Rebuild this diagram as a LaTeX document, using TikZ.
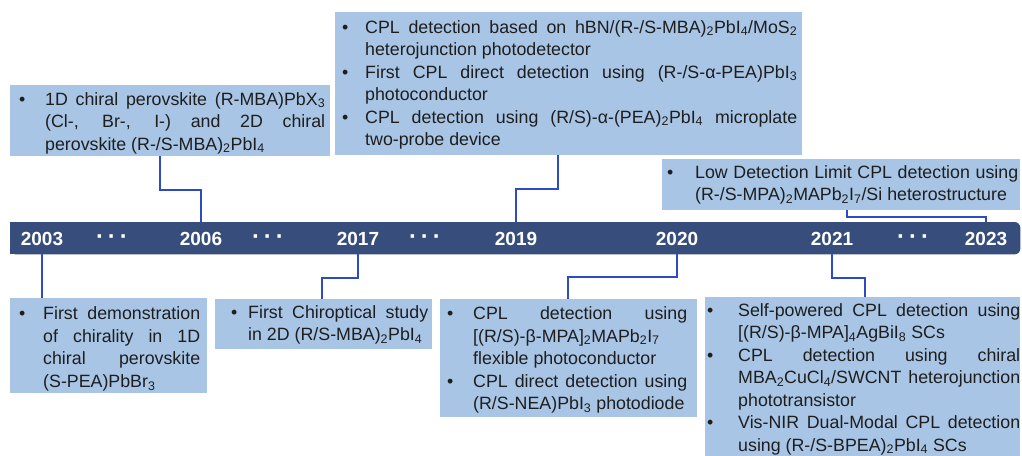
\documentclass[tikz,border=0pt]{standalone}
\usepackage{fontspec}
\setmainfont{Liberation Sans}
\definecolor{boxcol}{RGB}{168,197,229}
\definecolor{barcol}{RGB}{55,78,125}
\definecolor{conncol}{RGB}{45,75,195}
\definecolor{txtcol}{RGB}{30,30,30}
\newcommand\boxfont{\fontsize{17.8}{22.5}\selectfont}
\newcommand\itembox[2]{\par\noindent\makebox[#1][l]{\strut\textbullet}%
  \parbox[t]{\dimexpr\linewidth-#1\relax}{\boxfont\hyphenpenalty=10000 \exhyphenpenalty=10000 \strut#2\strut}\par}
\newcommand\itemstack[2]{\parbox{#1}{\boxfont\lineskip=0pt \lineskiplimit=0pt #2}}
\hbadness=10000
\tolerance=10000
\hyphenpenalty=10000
\exhyphenpenalty=10000
\begin{document}
\begin{tikzpicture}[x=1pt,y=-1pt,
  boxbg/.style={fill=boxcol, draw=none, inner sep=0pt, anchor=north west},
  boxtxt/.style={inner sep=0pt, anchor=west, text=txtcol},
  yearlab/.style={text=white, font=\fontsize{19}{19}\selectfont\bfseries, inner sep=0pt},
  dotlab/.style={text=white, font=\fontsize{24}{24}\selectfont\bfseries, inner sep=0pt},
  conn/.style={draw=conncol, line width=2pt}]
\useasboundingbox[fill=white] (0,0) rectangle (1022,455);

% timeline bar
\node[minimum width=1010pt, minimum height=32pt, inner sep=0pt, anchor=north west] (bar) at (10,222) {};
\fill[barcol, rounded corners=6pt] (bar.south west) rectangle (bar.north east);
\fill[barcol] (bar.south west) rectangle (bar.north);

\node[yearlab] (y2003) at (42,239) {2003};
\node[dotlab] (d1) at (112,240) {·\hspace{4pt}·\hspace{4pt}·};
\node[yearlab] (y2006) at (201,239) {2006};
\node[dotlab] (d2) at (268,240) {·\hspace{4pt}·\hspace{4pt}·};
\node[yearlab] (y2017) at (358,239) {2017};
\node[dotlab] (d3) at (425,240) {·\hspace{4pt}·\hspace{4pt}·};
\node[yearlab] (y2019) at (516,239) {2019};
\node[yearlab] (y2020) at (677,239) {2020};
\node[yearlab] (y2021) at (832,239) {2021};
\node[dotlab] (d4) at (913,240) {·\hspace{4pt}·\hspace{4pt}·};
\node[yearlab] (y2023) at (986,239) {2023};

% boxes
\node[boxbg, minimum width=320pt, minimum height=71pt] (b1) at (10,85) {};
\node[boxbg, minimum width=467pt, minimum height=143pt] (b2) at (335,12) {};
\node[boxbg, minimum width=358pt, minimum height=51pt] (b3) at (662,159) {};
\node[boxbg, minimum width=197pt, minimum height=95pt] (bA) at (10,298) {};
\node[boxbg, minimum width=217pt, minimum height=50pt] (bB) at (215,299) {};
\node[boxbg, minimum width=257pt, minimum height=118pt] (bC) at (440,299) {};
\node[boxbg, minimum width=315pt, minimum height=162pt] (bD) at (705,297) {};

% texts
\node[boxtxt] (t1) at (19,123) {\itemstack{306pt}{%
\itembox{26pt}{1D chiral perovskite (R-MBA)PbX\textsubscript{3}\linebreak (Cl-, Br-, I-) and 2D chiral\linebreak perovskite (R-/S-MBA)\textsubscript{2}PbI\textsubscript{4}}}};

\node[boxtxt] (t2) at (342,85) {\itemstack{455pt}{%
\itembox{23pt}{CPL detection based on hBN/(R-/S-MBA)\textsubscript{2}PbI\textsubscript{4}/MoS\textsubscript{2}\linebreak heterojunction photodetector}
\itembox{23pt}{First CPL direct detection using (R-/S-α-PEA)PbI\textsubscript{3}\linebreak photoconductor}
\itembox{23pt}{CPL detection using (R/S)-α-(PEA)\textsubscript{2}PbI\textsubscript{4} microplate\linebreak two-probe device}}};

\node[boxtxt] (t3) at (667,185) {\itemstack{351pt}{%
\itembox{28pt}{Low Detection Limit CPL detection using\linebreak (R-/S-MPA)\textsubscript{2}MAPb\textsubscript{2}I\textsubscript{7}/Si heterostructure}}};

\node[boxtxt] (tA) at (19,349) {\itemstack{181pt}{%
\itembox{24pt}{First demonstration\linebreak of chirality in 1D\linebreak chiral perovskite\linebreak (S-PEA)PbBr\textsubscript{3}}}};

\node[boxtxt] (tB) at (231,325) {\itemstack{197pt}{%
\itembox{17pt}{First Chiroptical study\linebreak in 2D (R/S-MBA)\textsubscript{2}PbI\textsubscript{4}}}};

\node[boxtxt] (tC) at (447,360) {\itemstack{240pt}{%
\itembox{26pt}{CPL detection using\linebreak{}[(R/S)-β-MPA]\textsubscript{2}MAPb\textsubscript{2}I\textsubscript{7}\newline flexible photoconductor}
\itembox{26pt}{CPL direct detection using\linebreak (R/S-NEA)PbI\textsubscript{3} photodiode}}};

\node[boxtxt] (tD) at (707,379) {\itemstack{313pt}{%
\itembox{31pt}{Self-powered CPL detection using\linebreak{}[(R/S)-β-MPA]\textsubscript{4}AgBiI\textsubscript{8} SCs}
\itembox{31pt}{CPL detection using chiral\linebreak MBA\textsubscript{2}CuCl\textsubscript{4}/SWCNT heterojunction\linebreak phototransistor}
\itembox{31pt}{Vis-NIR Dual-Modal CPL detection\linebreak using (R-/S-BPEA)\textsubscript{2}PbI\textsubscript{4} SCs}}};

% connectors
\coordinate (k1) at (160,190);
\coordinate (k2) at (558,189);
\coordinate (k3) at (847,217);
\coordinate (k5) at (322,278);
\coordinate (k6) at (568,277);
\coordinate (k7) at (865,278);
\draw[conn] (b1.south -| k1) -- (k1) -| (y2006 |- bar.north);
\draw[conn] (b2.south -| k2) -- (k2) -| (y2019 |- bar.north);
\draw[conn] (b3.south -| k3) -- (k3) -| (y2023 |- bar.north);
\draw[conn] (y2003 |- bar.south) -- (y2003 |- bA.north);
\draw[conn] (y2017 |- bar.south) |- (k5) -- (bB.north -| k5);
\draw[conn] (y2020 |- bar.south) |- (k6) -- (bC.north -| k6);
\draw[conn] (y2021 |- bar.south) |- (k7) -- (bD.north -| k7);
\end{tikzpicture}
\end{document}
